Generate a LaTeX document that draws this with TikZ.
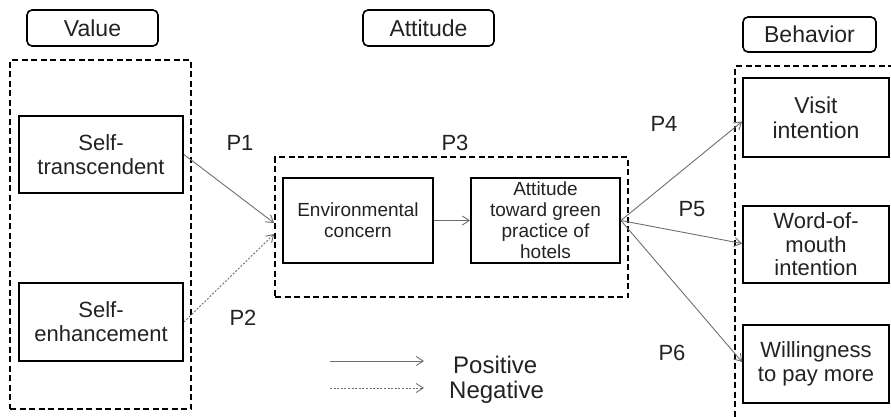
\documentclass[tikz,border=0pt]{standalone}
\usepackage{fontspec}
\setmainfont{Liberation Sans}
\usetikzlibrary{arrows.meta,positioning}
\definecolor{VABInk}{HTML}{222222}
\definecolor{VABLine}{HTML}{6E6E6E}

\begin{document}
\begin{tikzpicture}[x=1pt,y=-1pt,
            >={Straight Barb[length=7pt,width=9pt]},
            every node/.style={text=VABInk,inner sep=0pt},
            header/.style={draw=black,line width=1.6pt,rounded corners=5pt,
              minimum width=131pt,minimum height=36pt,font=\fontsize{23}{26}\selectfont},
            group/.style={draw=black,line width=1.8pt,dash pattern=on 6pt off 3.5pt,
              fill=none},
            concept/.style={draw=black,line width=1.8pt,align=center},
            leftbox/.style={concept,minimum width=164pt,minimum height=78pt,
              font=\fontsize{22}{24}\selectfont},
            midbox/.style={concept,minimum width=150pt,minimum height=85pt,
              font=\fontsize{19}{21}\selectfont},
            rightbox/.style={concept,minimum width=146pt,minimum height=78pt,
              font=\fontsize{22}{23.5}\selectfont},
            plabel/.style={font=\fontsize{22}{24}\selectfont},
            posarrow/.style={->,draw=VABLine,line width=0.9pt},
            negarrow/.style={->,draw=VABLine,line width=0.9pt,dash pattern=on 2pt off 1.6pt}
          ]
          \useasboundingbox (0,0) rectangle (891,416);
          % headers
          \node[header] (hval) at (92.5,28) {Value};
          \node[header] (hatt) at (428.5,28) {Attitude};
          \node[header,minimum width=133pt,minimum height=35pt] (hbeh) at (809.5,34.5) {Behavior};
          % dashed groups
          \node[group,minimum width=181pt,minimum height=349pt] (gval) at (100.5,234.5) {};
          \node[group,minimum width=353pt,minimum height=140pt] (gatt) at (451.5,227) {};
          \node[group,minimum width=160pt,minimum height=352pt] (gbeh) at (815,242) {};
          % value
          \node[leftbox,minimum height=77pt] (st) at (101,154.5) {Self-\\transcendent};
          \node[leftbox] (se) at (101,322) {Self-\\enhancement};
          % attitude
          \node[midbox] (env) at (358,220.5) {Environmental\\concern};
          \node[midbox,minimum width=149pt] (att) at (545.5,220.5) {Attitude\\toward green\\practice of\\hotels};
          % behavior
          \node[rightbox,minimum height=79pt,font=\fontsize{23}{25}\selectfont] (vis) at (816,117.5) {Visit\\intention};
          \node[rightbox,minimum height=77pt] (wom) at (816,244.5) {Word-of-\\mouth\\intention};
          \node[rightbox] (wil) at (816,364) {Willingness\\to pay more};
          % paths
          \draw[posarrow] (st.east) -- ([yshift=4pt]gatt.west);
          \draw[negarrow] (se.east) -- ([yshift=-7pt]gatt.west);
          \draw[posarrow] (env.east) -- (att.west);
          \draw[posarrow] (att.east) -- ([yshift=-4pt]vis.west);
          \draw[posarrow] (att.east) -- ([yshift=1pt]wom.west);
          \draw[posarrow] (att.east) -- ([yshift=2pt]wil.west);
          \node[plabel] (p1) at (240,143) {P1};
          \node[plabel] (p2) at (243,318) {P2};
          \node[plabel] (p3) at (455,143) {P3};
          \node[plabel] (p4) at (664,124) {P4};
          \node[plabel] (p5) at (692,209) {P5};
          \node[plabel] (p6) at (672,353) {P6};
          % legend
          \coordinate (lpa) at (330,361);
          \coordinate (lpb) at (424,361);
          \coordinate (lna) at (330,388);
          \coordinate (lnb) at (424,388);
          \draw[posarrow] (lpa) -- (lpb);
          \draw[negarrow] (lna) -- (lnb);
          \node[font=\fontsize{24}{26}\selectfont,anchor=west] (lpos) at (453,365) {Positive};
          \node[font=\fontsize{24}{26}\selectfont,anchor=west] (lneg) at (449,392) {Negative};
        \end{tikzpicture}
\end{document}
